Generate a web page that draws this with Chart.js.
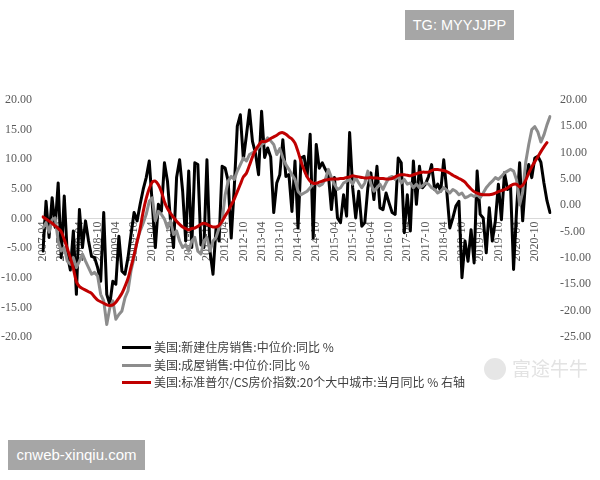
<!DOCTYPE html>
<html>
<head>
<meta charset="utf-8">
<script src="https://cdn.jsdelivr.net/npm/chart.js@4.4.0/dist/chart.umd.min.js"></script>
<style>
  body { margin: 0; background: #fff; }
  #wrap { position: relative; width: 600px; height: 480px; }
  canvas { position: absolute; left: 0; top: 0; }
  .tag { position: absolute; background: #a6a6a6; color: #fff; font-family: "Liberation Sans", sans-serif; text-align: center; }
  #legend { position: absolute; left: 122px; top: 338px; font-family: "Noto Sans CJK SC", sans-serif; font-size: 12px; color: #404040; }
  #legend div { height: 17.5px; line-height: 17.5px; white-space: nowrap; }
  #legend span.ln { display: inline-block; width: 29px; height: 3px; vertical-align: middle; margin-right: 3px; position: relative; top: -1px; }
  #wm { position: absolute; left: 484px; top: 354px; font-family: "Noto Sans CJK SC", sans-serif; font-size: 19px; color: #e3e3e3; white-space: nowrap; }
  #wm i { display: inline-block; width: 22px; height: 22px; border-radius: 50%; background: #e6e6e6; vertical-align: middle; margin-right: 6px; position: relative; top: -2px; }
</style>
</head>
<body>
<div id="wrap">
  <canvas id="houseChart" width="600" height="480"></canvas>
  <div class="tag" style="left:405px;top:10px;width:109px;height:30px;line-height:30px;font-size:14.5px;">TG: MYYJJPP</div>
  <div class="tag" style="left:8px;top:440px;width:137px;height:30px;line-height:30px;font-size:15px;">cnweb-xinqiu.com</div>
  <div id="legend"></div>
  <div id="wm"><i></i>富途牛牛</div>
</div>
<script>
// 月份: 2007-04 ~ 2021-03
const startYear = 2007, startMonth = 4, monthCount = 168;
const months = [];
for (let k = 0; k < monthCount; k++) {
  const m = startMonth - 1 + k;
  const y = startYear + Math.floor(m / 12);
  months.push(y + '-' + String(m % 12 + 1).padStart(2, '0'));
}

const seriesNames = [
  '美国:新建住房销售:中位价:同比 %',
  '美国:成屋销售:中位价:同比 %',
  '美国:标准普尔/CS房价指数:20个大中城市:当月同比 % 右轴'
];

// 新建住房销售 中位价 同比 (左轴)
const newHomeYoY = [
  -5.5, 2.9, -3.2, 3.5, -1.5, 6.0, -6.6, 3.8, -6.1, -8.7, -2.1, -12.8,
  1.5, -4.9, -0.4, -3.8, -6.4, -6.6, -8.3, -10.6, 1.0, -12.8, -14.5, -10.6,
  -11.1, -3.0, -8.9, -9.4, -6.6, -2.7, 1.0, -0.4, 2.4, 4.9, 6.9, 9.7,
  2.4, -4.9, 2.4, 1.2, 9.4, 6.3, -0.4, -4.9, 6.9, 9.9, 4.6, -3.8,
  8.0, -4.9, 9.4, 9.1, -4.4, -4.9, 9.9, -5.5, -9.4, -1.6, -3.8, 8.8,
  8.5, 6.3, -3.3, 5.2, 15.6, 17.5, 10.0, 14.0, 18.3, 13.0, 11.0, 7.4,
  18.1, 10.3, 11.9, 10.4, 1.0, 6.0, 7.4, 13.3, 7.1, 7.4, 1.2, 9.7,
  -1.6, 10.2, 10.5, 7.1, 14.2, -3.3, 12.5, 8.5, 9.4, 8.3, 7.4, 1.5,
  6.9, 0.1, -0.7, 4.0, 0.4, 14.5, 5.2, 0.1, 4.6, -1.3, -0.7, 5.2,
  7.7, 3.2, 8.8, 1.8, 1.5, 4.3, 2.6, 1.0, 0.7, 10.2, 9.4, -2.4,
  4.0, -2.1, 9.7, 2.4, 8.8, 5.2, 5.8, 7.1, 9.1, 4.9, 5.8, 4.6,
  9.9, 4.6, -1.6, 0.1, 2.1, 2.9, -10.0, -3.8, -7.2, -1.9, -7.5, 8.0,
  0.7, 0.1, -5.8, 1.8, -3.8, -0.4, 5.8, -0.2, 7.7, 4.9, 5.5, -8.6,
  1.5, 9.4, -0.4, 6.6, 9.1, 6.9, 10.2, 10.5, 9.5, 6.0, 3.0, 1.0
];

// 成屋销售 中位价 同比 (左轴)
const existingHomeYoY = [
  -1.6, -0.7, -2.3, -0.2, 0.1, -3.8, -5.5, -4.9, -7.2, -7.7, -6.6, -8.3,
  -7.2, -6.0, -7.2, -8.3, -9.4, -9.1, -9.7, -12.8, -13.9, -17.9, -15.1, -13.9,
  -17.0, -16.2, -15.6, -13.4, -12.2, -8.8, -6.6, -3.8, -2.1, -0.8, 0.7, 2.9,
  3.5, -0.4, 1.2, 0.7, -0.1, -1.6, -0.4, -2.7, -2.1, -3.8, -4.9, -4.4,
  -5.5, -3.8, -3.2, -5.5, -6.0, -3.8, -3.2, -5.5, -3.8, -3.2, -1.6, -0.4,
  4.0, 6.3, 7.1, 6.6, 8.0, 9.1, 10.2, 9.7, 10.8, 11.1, 11.5, 12.0,
  12.5, 12.8, 13.6, 13.1, 12.5, 10.8, 11.8, 10.2, 9.1, 8.3, 7.4, 6.6,
  4.6, 4.0, 4.3, 4.6, 5.2, 5.8, 6.0, 5.5, 5.8, 6.6, 8.3, 6.9,
  5.8, 4.9, 5.2, 6.0, 6.3, 6.6, 5.8, 6.9, 6.0, 5.2, 6.0, 8.0,
  5.8, 4.6, 5.2, 5.8, 4.9, 6.0, 6.9, 7.1, 6.6, 7.1, 6.0, 6.6,
  5.8, 6.0, 5.2, 5.8, 5.2, 5.5, 6.0, 5.8, 5.2, 4.9, 4.3, 4.6,
  5.2, 4.8, 4.3, 4.9, 4.6, 4.0, 4.3, 3.5, 3.7, 4.0, 3.7, 4.0,
  3.5, 4.3, 5.2, 5.8, 6.3, 6.9, 6.6, 7.1, 7.7, 8.0, 8.3, 8.0,
  6.5, 2.3, 4.5, 9.5, 12.5, 15.0, 15.5, 14.6, 12.9, 14.1, 15.8, 17.2
];

// 标准普尔/CS 20城 当月同比 (右轴)
const csIndexYoY = [
  -2.2, -2.6, -3.0, -3.4, -3.9, -4.4, -5.0, -6.5, -8.2, -10.0, -12.0, -14.5,
  -15.4, -15.8, -16.1, -16.4, -16.7, -17.4, -18.0, -18.3, -18.6, -18.9, -19.0, -18.9,
  -18.4, -17.6, -16.7, -15.4, -13.9, -11.7, -9.4, -6.9, -4.4, -1.2, 1.3, 3.2,
  4.4, 4.6, 3.9, 2.6, 0.7, -0.6, -1.5, -2.3, -3.0, -3.6, -4.1, -4.4,
  -4.7, -4.4, -4.3, -4.0, -3.6, -3.4, -3.6, -3.9, -4.1, -4.1, -3.8, -3.0,
  -2.0, -1.1, 0.1, 1.2, 2.6, 4.0, 5.4, 6.1, 7.6, 9.2, 10.5, 11.4,
  12.1, 12.1, 12.3, 12.7, 13.0, 13.3, 13.7, 13.8, 13.5, 13.0, 12.6, 11.8,
  10.2, 8.3, 6.7, 5.4, 4.6, 4.2, 4.2, 4.4, 4.6, 4.8, 4.9, 5.0,
  5.0, 5.0, 5.1, 5.1, 5.3, 5.4, 5.6, 5.5, 5.4, 5.3, 5.2, 5.2,
  5.3, 5.2, 5.2, 5.1, 5.1, 5.0, 5.0, 5.1, 5.4, 5.7, 5.8, 5.8,
  5.7, 5.6, 5.8, 6.0, 6.2, 6.3, 6.3, 6.3, 6.6, 6.8, 6.8, 6.7,
  6.6, 6.4, 6.1, 5.7, 5.4, 5.1, 4.8, 4.4, 3.7, 3.1, 2.6, 2.3,
  2.1, 2.0, 2.0, 2.0, 2.1, 2.3, 2.6, 2.8, 3.0, 3.3, 3.7, 4.0,
  4.0, 3.5, 3.8, 4.8, 6.1, 7.3, 8.3, 9.2, 10.2, 11.1, 11.9, null
];

const lineColors = ['#000000', '#8c8c8c', '#c00000'];
const tickFont = { family: '"Liberation Serif", "DejaVu Serif", serif', size: 12 };
const tickColor = '#595959';

// 图例 (HTML)
const legendBox = document.getElementById('legend');
seriesNames.forEach(function (name, i) {
  const row = document.createElement('div');
  row.innerHTML = '<span class="ln" style="background:' + lineColors[i] + '"></span>' + name;
  legendBox.appendChild(row);
});

const data = {
  labels: months,
  datasets: [
    { label: seriesNames[0], data: newHomeYoY, yAxisID: 'y', borderColor: lineColors[0], borderWidth: 3, order: 3 },
    { label: seriesNames[1], data: existingHomeYoY, yAxisID: 'y', borderColor: lineColors[1], borderWidth: 3, order: 2 },
    { label: seriesNames[2], data: csIndexYoY, yAxisID: 'y1', borderColor: lineColors[2], borderWidth: 3, tension: 0.3, order: 1 }
  ]
};

const ctx = document.getElementById('houseChart');
new Chart(ctx, {
  type: 'line',
  data: data,
  options: {
    responsive: false,
    animation: false,
    elements: { point: { radius: 0 }, line: { borderJoinStyle: 'round', borderCapStyle: 'round' } },
    layout: { padding: { left: 0, right: 0, top: 100, bottom: 143 } },
    plugins: { legend: { display: false }, tooltip: { enabled: false } },
    scales: {
      x: {
        type: 'category',
        position: { y: 0 },
        grid: { display: false, drawTicks: false },
        border: { display: true, color: '#d9d9d9', width: 1 },
        ticks: {
          autoSkip: false, minRotation: 90, maxRotation: 90, padding: 3,
          color: tickColor, font: tickFont,
          callback: function (v, i) {
            const lb = months[i];
            return (lb.endsWith('-04') || lb.endsWith('-10')) ? lb : '';
          }
        }
      },
      y: {
        position: 'left', min: -20, max: 20,
        grid: { display: false, drawTicks: false }, border: { display: false },
        ticks: { stepSize: 5, padding: 11, color: tickColor, font: tickFont, callback: v => v.toFixed(2) },
        afterFit: s => { s.width = 43; }
      },
      y1: {
        position: 'right', min: -25, max: 20,
        grid: { display: false, drawTicks: false }, border: { display: false },
        ticks: { stepSize: 5, padding: 10, color: tickColor, font: tickFont, callback: v => v.toFixed(2) },
        afterFit: s => { s.width = 50; }
      }
    }
  }
});
</script>
</body>
</html>
